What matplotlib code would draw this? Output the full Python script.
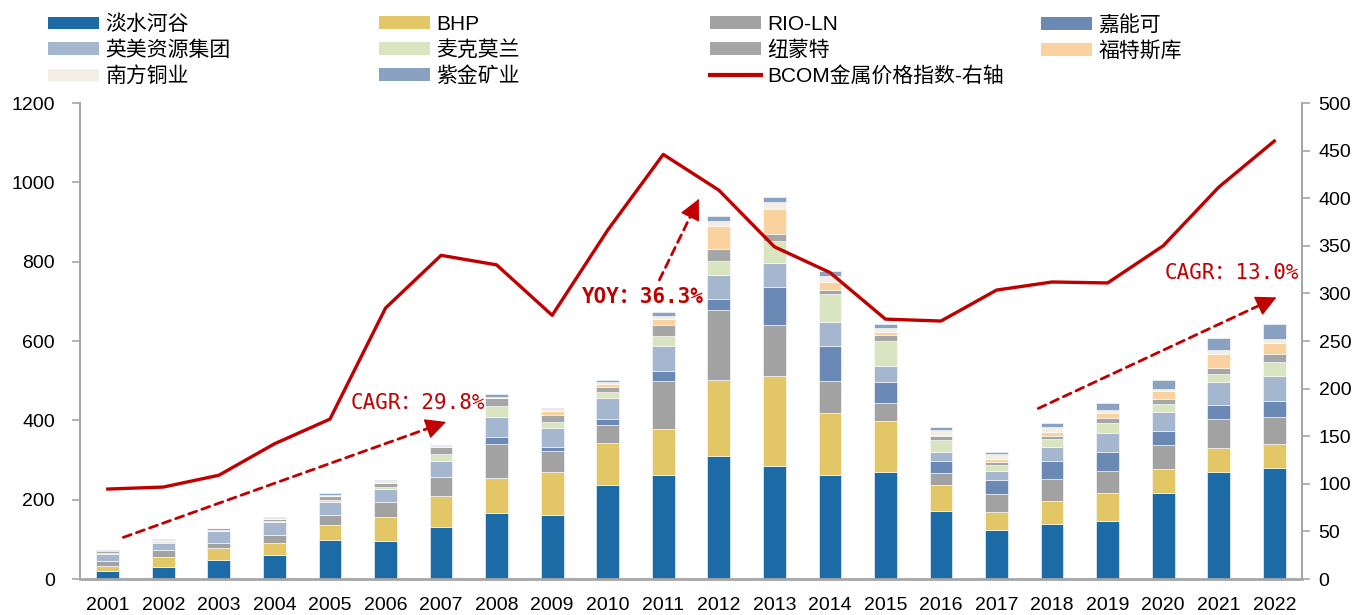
import matplotlib
matplotlib.use("Agg")
import matplotlib.pyplot as plt
from matplotlib.patches import Patch
from matplotlib.lines import Line2D

plt.rcParams['font.family'] = ['Liberation Sans', 'Noto Sans CJK SC']

years = [2001, 2002, 2003, 2004, 2005, 2006, 2007, 2008, 2009, 2010, 2011,
         2012, 2013, 2014, 2015, 2016, 2017, 2018, 2019, 2020, 2021, 2022]

# stacked company values (left axis), bottom to top
vale = [21, 29.5, 48, 60.5, 97.5, 96.7, 130, 165.5, 162, 236, 262, 310.7, 285.5, 262, 269.5, 172, 122.6, 137.7, 146, 216, 271, 279.6]
bhp = [12.5, 26.5, 29, 29.5, 38.5, 59.3, 79, 88, 106.6, 106.6, 115, 191.3, 225.5, 156, 128.5, 65, 47, 58.3, 71, 61, 59, 61.1]
rio = [12.5, 16, 15, 22, 26, 39, 49, 86.4, 54.4, 45.4, 123, 176, 130, 82, 46, 30.6, 45.4, 55, 55, 62, 74, 68.3]
glencore = [0, 0, 0, 0, 0, 0, 0, 17, 10, 15, 24, 29, 95, 87, 53, 29.2, 35, 46, 47, 35, 34, 41]
anglo = [17.7, 19, 30, 33, 33, 31, 40, 52, 47, 54, 63, 59, 61, 61, 40, 24.2, 23, 35, 48, 47, 59, 62]
fcx = [2, 3, 2, 2, 3, 6, 17, 28, 15, 15, 26, 35, 54, 71, 64, 28.6, 15, 20, 26, 19, 21, 35]
newmont = [4, 3, 4, 5, 11, 11, 18, 19, 18, 12.6, 27, 31, 19, 10, 14, 11.4, 7.6, 9, 14, 13, 15, 21]
fmg = [0, 0, 0, 0, 0, 0, 0, 1, 11, 7.4, 16, 59, 62, 19, 8, 3, 7.4, 8.5, 11, 20, 35, 28]
scc = [1, 1, 2, 3, 3, 3, 2, 3, 4, 4, 6, 12, 18, 17, 11, 12, 11, 12.5, 8, 7, 9, 10]
zijin = [2, 2, 2, 2, 4, 4, 2, 6, 4, 5, 12, 13, 14, 11, 8, 8, 7, 12, 17, 21, 31, 37]

# BCOM metals index (right axis)
bcom = [94.5, 96.6, 109, 142, 168, 284.6, 340, 330, 277, 366.5, 446, 408.5, 349, 322, 273, 271, 303.5, 312, 311, 350, 411.6, 460]

series = [
    ("淡水河谷", vale, "#1C6BA6"),
    ("BHP", bhp, "#E3C665"),
    ("RIO-LN", rio, "#A2A2A2"),
    ("嘉能可", glencore, "#6A89B4"),
    ("英美资源集团", anglo, "#A5B7CE"),
    ("麦克莫兰", fcx, "#D9E4C0"),
    ("纽蒙特", newmont, "#A6A6A6"),
    ("福特斯库", fmg, "#FAD2A0"),
    ("南方铜业", scc, "#F2EEE3"),
    ("紫金矿业", zijin, "#8AA2C1"),
]

fig = plt.figure(figsize=(13.7, 6.15), dpi=100)
ax = fig.add_axes([0.0584, 0.0585, 0.892, 0.774])
ax2 = ax.twinx()

bottom = [0] * len(years)
for name, vals, col in series:
    ax.bar(years, vals, width=0.41, bottom=bottom, color=col,
           edgecolor="white", linewidth=0.4, zorder=2)
    bottom = [b + v for b, v in zip(bottom, vals)]

ax2.plot(years, bcom, color="#C00000", linewidth=2.4, zorder=3)

ax.set_xlim(2000.5, 2022.5)
ax.set_ylim(0, 1200)
ax2.set_ylim(0, 500)
ax.set_yticks(range(0, 1201, 200))
ax2.set_yticks(range(0, 501, 50))
ax.set_xticks(years)
ax.set_xticklabels([str(y) for y in years])

for a in (ax, ax2):
    for s in a.spines.values():
        s.set_color("#A6A6A6")
        s.set_linewidth(1.3)
    a.spines["top"].set_visible(False)
    a.tick_params(axis="y", colors="#A6A6A6", labelcolor="black",
                  labelsize=14, length=6, width=1.2)
ax.spines["bottom"].set_linewidth(2)
ax2.spines["bottom"].set_visible(False)
ax.tick_params(axis="y", pad=12)
ax2.tick_params(axis="y", pad=6)
ax.tick_params(axis="x", length=0, labelsize=14, pad=13)

# annotations: dashed shaft plus a solid arrowhead at the tip
red = "#C00000"
mono = ["DejaVu Sans Mono", "Noto Sans CJK SC"]
arrows = [((2001.28, 105), (2007.09, 396)),
          ((2010.93, 754), (2011.64, 958)),
          ((2017.75, 430), (2022.04, 710))]
for (x0, y0), (x1, y1) in arrows:
    ax.annotate("", xy=(x1, y1), xytext=(x0, y0), zorder=4,
                arrowprops=dict(arrowstyle="-", color=red, lw=2,
                                linestyle=(0, (3, 2)), shrinkA=0, shrinkB=14))
    ax.annotate("", xy=(x1, y1), xytext=(x1 - (x1 - x0) * 0.02, y1 - (y1 - y0) * 0.02),
                zorder=4,
                arrowprops=dict(arrowstyle="-|>,head_length=1.3,head_width=0.65",
                                color=red, lw=1, shrinkA=0, shrinkB=0))

ax.text(2005.38, 444, "CAGR：29.8%", color=red, fontsize=15, family=mono,
        ha="left", va="center", zorder=4)
ax.text(2009.54, 711, "YOY：36.3%", color=red, fontsize=15, family=mono,
        fontweight="bold", ha="left", va="center", zorder=4)
ax.text(2020.02, 771, "CAGR：13.0%", color=red, fontsize=15, family=mono,
        ha="left", va="center", zorder=4)

# legend: four columns placed separately so the spacing is even
handles = {name: Patch(facecolor=col, edgecolor="none") for name, _, col in series}
handles["BCOM金属价格指数-右轴"] = Line2D([], [], color=red, linewidth=3)
columns = [
    ["淡水河谷", "英美资源集团", "南方铜业"],
    ["BHP", "麦克莫兰", "紫金矿业"],
    ["RIO-LN", "纽蒙特", "BCOM金属价格指数-右轴"],
    ["嘉能可", "福特斯库"],
]
col_x = [0.0307, 0.2723, 0.5139, 0.7555]
for cx, names in zip(col_x, columns):
    fig.legend([handles[n] for n in names], names, loc="upper left",
               bbox_to_anchor=(cx, 0.986), frameon=False, fontsize=15,
               handlelength=2.45, handleheight=0.55, handletextpad=0.3,
               labelspacing=0.3, borderpad=0.3, borderaxespad=0)

fig.savefig("out.png", dpi=100)
